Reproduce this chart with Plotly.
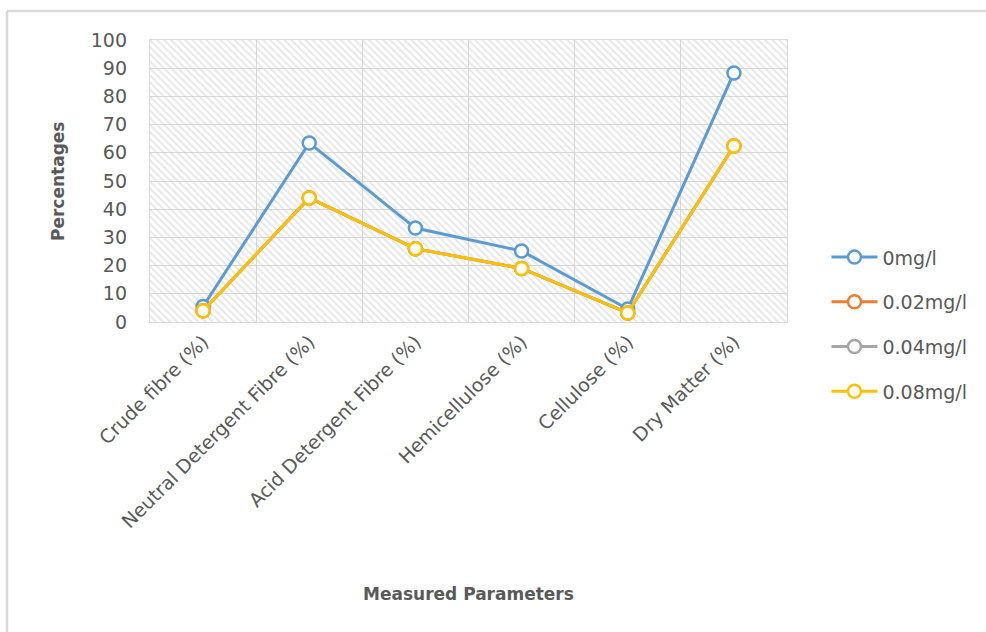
import plotly.graph_objects as go

categories = ["Crude fibre (%)", "Neutral Detergent Fibre (%)", "Acid Detergent Fibre (%)",
              "Hemicellulose (%)", "Cellulose (%)", "Dry Matter (%)"]
series_names = ["0mg/l", "0.02mg/l", "0.04mg/l", "0.08mg/l"]
v_0 = [5.5, 63.5, 33.3, 25.2, 4.6, 88.3]
v_002 = [4.0, 44.0, 26.0, 19.0, 3.2, 62.4]
v_004 = [4.0, 44.0, 26.0, 19.0, 3.2, 62.4]
v_008 = [4.0, 44.0, 26.0, 19.0, 3.2, 62.4]
series_values = [v_0, v_002, v_004, v_008]
colors = ["#5B9BD5", "#ED7D31", "#A5A5A5", "#FFC000"]
y_ticks = list(range(0, 101, 10))

FONT = "DejaVu Sans"
TXT = "#595959"

fig = go.Figure()

# hatched plot-area background on hidden base axes
fig.add_trace(go.Scatter(
    x=[0, 1, 1, 0, 0], y=[0, 0, 1, 1, 0], xaxis="x", yaxis="y",
    mode="none", fill="toself",
    fillpattern=dict(shape="\\", fgcolor="#cfcfcf", bgcolor="rgba(0,0,0,0)",
                     size=5, solidity=0.4),
    hoverinfo="skip", showlegend=False))

for i, (name, vals, c) in enumerate(zip(series_names, series_values, colors)):
    fig.add_trace(go.Scatter(
        x=categories, y=vals, name=name, xaxis="x2", yaxis="y2",
        mode="lines+markers", legendgroup=str(i),
        line=dict(color=c, width=3),
        marker=dict(symbol="circle", size=13, color="white",
                    line=dict(color=c, width=2.5))))

fig.update_layout(
    width=986, height=632,
    margin=dict(l=150, r=199, t=40, b=310),
    paper_bgcolor="white", plot_bgcolor="white",
    font=dict(family=FONT, color=TXT, size=17),
    xaxis=dict(range=[0, 1], visible=False, fixedrange=True),
    yaxis=dict(range=[0, 1], visible=False, fixedrange=True),
    xaxis2=dict(overlaying="x", anchor="y2", type="category",
                range=[-0.5, len(categories) - 0.5],
                tickson="boundaries", ticks="", showgrid=True,
                gridcolor="#d9d9d9", gridwidth=1.3,
                showline=True, mirror=True, linecolor="#d9d9d9", linewidth=1.3,
                tickangle=-45, tickfont=dict(size=19, color=TXT, family=FONT)),
    yaxis2=dict(overlaying="y", anchor="x2", range=[0, 100],
                tickvals=y_ticks, ticks="", showgrid=True,
                gridcolor="#d9d9d9", gridwidth=1.3, zeroline=False,
                showline=True, mirror=True, linecolor="#d9d9d9", linewidth=1.3,
                tickfont=dict(size=19, color=TXT, family=FONT), ticklabelstandoff=18),
    legend=dict(x=1.062, y=-0.008, xanchor="left", yanchor="middle",
                font=dict(size=19, color=TXT, family=FONT),
                tracegroupgap=17, traceorder="grouped", itemwidth=46,
                bgcolor="rgba(0,0,0,0)"),
    annotations=[
        dict(text="<b>Percentages</b>", xref="paper", yref="paper",
             x=-0.1444, y=0.5, xanchor="center", yanchor="middle",
             textangle=-90, showarrow=False,
             font=dict(size=17, color=TXT, family=FONT)),
        dict(text="<b>Measured Parameters</b>", xref="paper", yref="paper",
             x=0.5, y=-0.965, xanchor="center", yanchor="middle", showarrow=False,
             font=dict(size=17, color=TXT, family=FONT)),
    ],
    shapes=[
        dict(type="line", xref="paper", yref="paper",
             x0=-0.2245, x1=-0.2245, y0=1.1028, y1=-1.2,
             line=dict(color="#d9d9d9", width=2.5)),
        dict(type="line", xref="paper", yref="paper",
             x0=-0.2245, x1=1.5, y0=1.1028, y1=1.1028,
             line=dict(color="#d9d9d9", width=2.5)),
    ],
)

fig.write_html("out.html")
